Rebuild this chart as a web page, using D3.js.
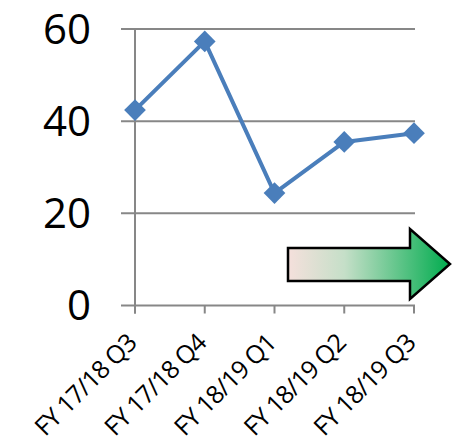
<!DOCTYPE html>
<html>
<head>
<meta charset="utf-8">
<script src="https://cdn.jsdelivr.net/npm/d3@7"></script>
<style>
  html, body { margin: 0; padding: 0; background: #fff; }
  svg { display: block; }
</style>
</head>
<body>
<script>
// Quarterly results
const categories = ["FY 17/18 Q3", "FY 17/18 Q4", "FY 18/19 Q1", "FY 18/19 Q2", "FY 18/19 Q3"];
const values = [42.4, 57.3, 24.4, 35.5, 37.4];
const yTicks = [0, 20, 40, 60];

const W = 454, H = 446;
const plot = { left: 135, right: 414, top: 29, bottom: 305.5 };
const gridColor = "#878787";
const lineColor = "#4a7ebb";

const svg = d3.select("body").append("svg")
  .attr("width", W).attr("height", H);

const x = d3.scalePoint().domain(categories).range([plot.left, plot.right]);
const y = d3.scaleLinear().domain([0, 60]).range([plot.bottom, plot.top]);

// Horizontal gridlines (also act as left tick marks)
svg.append("g").selectAll("line").data(yTicks).join("line")
  .attr("x1", plot.left - 14).attr("x2", plot.right + 1)
  .attr("y1", d => y(d)).attr("y2", d => y(d))
  .attr("stroke", gridColor).attr("stroke-width", 2);

// Vertical axis line
svg.append("line")
  .attr("x1", plot.left).attr("x2", plot.left)
  .attr("y1", plot.top).attr("y2", plot.bottom + 8)
  .attr("stroke", gridColor).attr("stroke-width", 2);

// Category tick marks
svg.append("g").selectAll("line").data(categories).join("line")
  .attr("x1", d => x(d)).attr("x2", d => x(d))
  .attr("y1", plot.bottom).attr("y2", plot.bottom + 8)
  .attr("stroke", gridColor).attr("stroke-width", 2);

// Y labels
svg.append("g").selectAll("text").data(yTicks).join("text")
  .attr("x", 91).attr("y", d => y(d))
  .attr("dy", "0.35em")
  .attr("text-anchor", "end")
  .attr("font-family", "'Open Sans', sans-serif")
  .attr("font-size", 42)
  .attr("fill", "#000")
  .text(d => d);

// X labels, rotated
svg.append("g").selectAll("text").data(categories).join("text")
  .attr("transform", d => `translate(${x(d) + 3},${plot.bottom + 39}) rotate(-45)`)
  .attr("text-anchor", "end")
  .attr("font-family", "'Open Sans', sans-serif")
  .attr("font-size", 25)
  .attr("letter-spacing", -0.8)
  .attr("fill", "#000")
  .text(d => d);

// Trend arrow
const defs = svg.append("defs");
const grad = defs.append("linearGradient").attr("id", "arrowFill")
  .attr("x1", "0%").attr("x2", "100%").attr("y1", "0%").attr("y2", "0%");
grad.append("stop").attr("offset", "0%").attr("stop-color", "#f5e0dc");
grad.append("stop").attr("offset", "35%").attr("stop-color", "#c5dfc8");
grad.append("stop").attr("offset", "100%").attr("stop-color", "#00ac4e");

const ax0 = 288, ax1 = 450, axHead = 410;
const bodyTop = 248, bodyBot = 281, headTop = 229, headBot = 299;
const midY = (headTop + headBot) / 2;
svg.append("path")
  .attr("d", `M${ax0},${bodyTop} L${axHead},${bodyTop} L${axHead},${headTop} L${ax1},${midY} L${axHead},${headBot} L${axHead},${bodyBot} L${ax0},${bodyBot} Z`)
  .attr("fill", "url(#arrowFill)")
  .attr("stroke", "#000").attr("stroke-width", 2.5)
  .attr("stroke-linejoin", "miter");

// Series line
svg.append("path").datum(values)
  .attr("d", d3.line().x((d, i) => x(categories[i])).y(d => y(d)))
  .attr("fill", "none").attr("stroke", lineColor).attr("stroke-width", 4)
  .attr("stroke-linejoin", "round");

// Diamond markers
svg.append("g").selectAll("path").data(values).join("path")
  .attr("transform", (d, i) => `translate(${x(categories[i])},${y(d)})`)
  .attr("d", d3.symbol(d3.symbolDiamond2, 300))
  .attr("fill", lineColor);
</script>
</body>
</html>
